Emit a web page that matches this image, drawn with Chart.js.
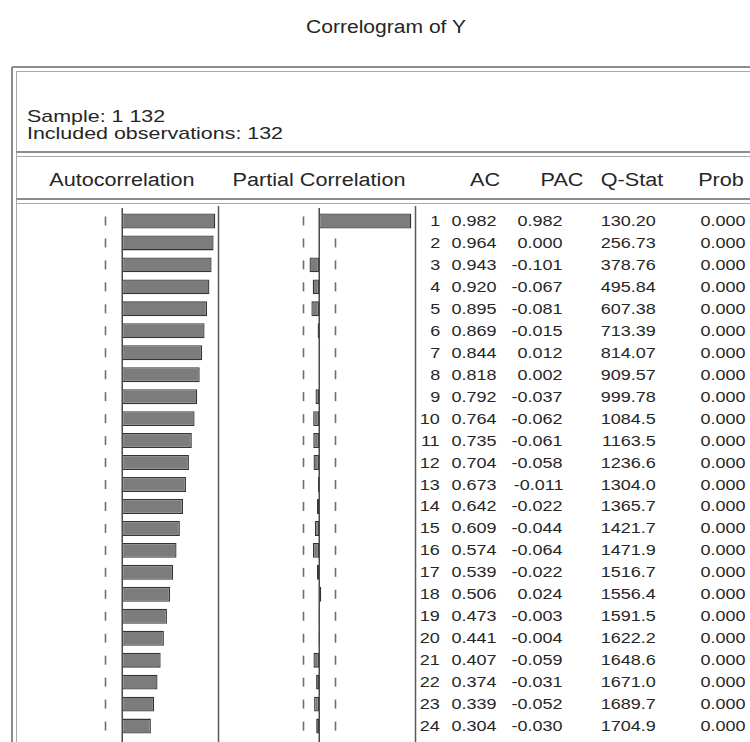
<!DOCTYPE html>
<html>
<head>
<meta charset="utf-8">
<script src="https://cdn.jsdelivr.net/npm/chart.js@4.4.1/dist/chart.umd.min.js"></script>
<style>
  html, body { margin: 0; padding: 0; background: #ffffff; }
  body { width: 750px; height: 742px; position: relative; overflow: hidden;
         font-family: "Liberation Sans", Arial, sans-serif; color: #262626; }
  .txt { position: absolute; white-space: nowrap; line-height: 1; }
  .hline { position: absolute; left: 12px; right: 0; height: 0; border-top: 2px solid #8c8c8c; }
  .hline2 { position: absolute; left: 16px; right: 0; height: 0; border-top: 1px solid #a8a8a8; }
  .vline { position: absolute; top: 67px; bottom: 0; width: 0; border-left: 2px solid #8c8c8c; }
  .vline2 { position: absolute; top: 71px; bottom: 0; width: 0; border-left: 1px solid #a8a8a8; }
  canvas { position: absolute; }
</style>
</head>
<body>
<div class="txt" id="title" style="top:18px;left:386px;font-size:18px;transform-origin:center;transform:translateX(-50%) scaleX(1.17);">Correlogram of Y</div>

<!-- box frame -->
<div class="hline" style="top:66px;"></div>
<div class="hline2" style="top:71px;"></div>
<div class="vline" style="left:11px;"></div>
<div class="vline2" style="left:16px;"></div>
<div class="hline" style="top:151px;left:16px;"></div>
<div class="hline2" style="top:156px;"></div>
<div class="hline" style="top:198px;left:16px;"></div>
<div class="hline2" style="top:203px;"></div>

<div class="txt" style="top:108px;left:27px;font-size:17px;transform-origin:left;transform:scaleX(1.26);">Sample: 1 132</div>
<div class="txt" style="top:125px;left:27px;font-size:17px;transform-origin:left;transform:scaleX(1.26);">Included observations: 132</div>

<div id="headers"></div>
<canvas id="acf"></canvas>
<canvas id="pacf"></canvas>
<div id="table"></div>

<script>
// Correlogram of Y: lags 1..24
const lags = [1, 2, 3, 4, 5, 6, 7, 8, 9, 10, 11, 12, 13, 14, 15, 16, 17, 18, 19, 20, 21, 22, 23, 24];
const acValues = [0.982, 0.964, 0.943, 0.920, 0.895, 0.869, 0.844, 0.818, 0.792, 0.764, 0.735, 0.704,
                  0.673, 0.642, 0.609, 0.574, 0.539, 0.506, 0.473, 0.441, 0.407, 0.374, 0.339, 0.304];
const pacValues = [0.982, 0.000, -0.101, -0.067, -0.081, -0.015, 0.012, 0.002, -0.037, -0.062, -0.061, -0.058,
                   -0.011, -0.022, -0.044, -0.064, -0.022, 0.024, -0.003, -0.004, -0.059, -0.031, -0.052, -0.030];
const qStats = [130.20, 256.73, 378.76, 495.84, 607.38, 713.39, 814.07, 909.57, 999.78, 1084.5, 1163.5, 1236.6,
                1304.0, 1365.7, 1421.7, 1471.9, 1516.7, 1556.4, 1591.5, 1622.2, 1648.6, 1671.0, 1689.7, 1704.9];
const probs = [0.000, 0.000, 0.000, 0.000, 0.000, 0.000, 0.000, 0.000, 0.000, 0.000, 0.000, 0.000,
               0.000, 0.000, 0.000, 0.000, 0.000, 0.000, 0.000, 0.000, 0.000, 0.000, 0.000, 0.000];
const nObs = 132;
const columnHeaders = ['Autocorrelation', 'Partial Correlation', 'AC', 'PAC', 'Q-Stat', 'Prob'];

// approximate 95% band, +/- 2/sqrt(n)
const band = 2 / Math.sqrt(nObs);

// Panel guides: dotted band marks per lag, zero line, panel edge
function guidesPlugin() {
  return {
    id: 'guides',
    beforeDatasetsDraw(chart) {
      const { ctx, scales: { x, y } } = chart;
      ctx.save();
      ctx.strokeStyle = '#6e6e6e';
      ctx.lineWidth = 1.6;
      lags.forEach((_, i) => {
        const yc = y.getPixelForValue(i);
        [-band, band].forEach(b => {
          const xp = Math.round(x.getPixelForValue(b)) + 0.5;
          ctx.beginPath();
          ctx.moveTo(xp, yc - 4.5);
          ctx.lineTo(xp, yc + 4.5);
          ctx.stroke();
        });
      });
      ctx.restore();
    },
    afterDatasetsDraw(chart) {
      const { ctx, scales: { x } } = chart;
      const h = chart.height;
      ctx.save();
      ctx.strokeStyle = '#4a4a4a';
      ctx.lineWidth = 1.5;
      const x0 = Math.round(x.getPixelForValue(0)) + 0.25;
      ctx.beginPath();
      ctx.moveTo(x0, 4);
      ctx.lineTo(x0, h);
      ctx.stroke();
      ctx.strokeStyle = '#5a5a5a';
      const xe = chart.width - 1.5;
      ctx.beginPath();
      ctx.moveTo(xe, 2);
      ctx.lineTo(xe, h);
      ctx.stroke();
      ctx.restore();
    }
  };
}

function makePanel(id, values, left, width, padLeft, padRight) {
  const cv = document.getElementById(id);
  const top = 204, height = 742 - 204;
  cv.width = width; cv.height = height;
  cv.style.left = left + 'px'; cv.style.top = top + 'px';
  cv.style.width = width + 'px'; cv.style.height = height + 'px';
  const rowsTop = 210, rowsBottom = rowsTop + 24 * 21.96;
  return new Chart(cv, {
    type: 'bar',
    data: {
      labels: lags.map(String),
      datasets: [{
        data: values,
        backgroundColor: '#7c7c7c',
        borderColor: '#353535',
        borderWidth: 1.3,
        borderSkipped: false,
        barPercentage: 0.68,
        categoryPercentage: 1
      }]
    },
    options: {
      indexAxis: 'y',
      responsive: false,
      maintainAspectRatio: false,
      animation: false,
      layout: { padding: { left: padLeft, right: padRight, top: rowsTop - top, bottom: top + height - rowsBottom } },
      scales: {
        x: { min: -1, max: 1, display: false },
        y: { display: false, offset: true }
      },
      plugins: { legend: { display: false }, tooltip: { enabled: false } }
    },
    plugins: [guidesPlugin()]
  });
}

// ACF panel: zero at x=122, PACF panel: zero at x=319
const acfChart = makePanel('acf', acValues, 17, 203, 10, 3);
const pacfChart = makePanel('pacf', pacValues, 220, 197, 5, 4);

function addText(parent, str, opts) {
  const d = document.createElement('div');
  d.className = 'txt';
  d.textContent = str;
  d.style.fontSize = opts.size + 'px';
  d.style.top = opts.top + 'px';
  if (opts.align === 'right') {
    d.style.right = (750 - opts.x) + 'px';
    d.style.transformOrigin = 'right';
    d.style.transform = 'scaleX(' + opts.stretch + ')';
  } else {
    d.style.left = opts.x + 'px';
    d.style.transformOrigin = 'center';
    d.style.transform = 'translateX(-50%) scaleX(' + opts.stretch + ')';
  }
  parent.appendChild(d);
}

// column headers
const hdr = document.getElementById('headers');
const headerCenters = [122, 319, 485, 562, 632, 721];
columnHeaders.forEach((h, i) =>
  addText(hdr, h, { x: headerCenters[i], top: 171, size: 18, stretch: 1.2, align: 'center' }));

// statistics table, rows aligned to the bar scale
const tbl = document.getElementById('table');
const yScale = acfChart.scales.y;
const rightEdges = [440, 497, 563, 656, 746];
lags.forEach((lag, i) => {
  const yc = 204 + yScale.getPixelForValue(i);
  const top = yc - 8;
  const cells = [String(lag), acValues[i].toFixed(3), pacValues[i].toFixed(3),
                 qStats[i].toPrecision(5), probs[i].toFixed(3)];
  cells.forEach((c, j) =>
    addText(tbl, c, { x: rightEdges[j], top: top, size: 15, stretch: 1.2, align: 'right' }));
});
</script>
</body>
</html>
